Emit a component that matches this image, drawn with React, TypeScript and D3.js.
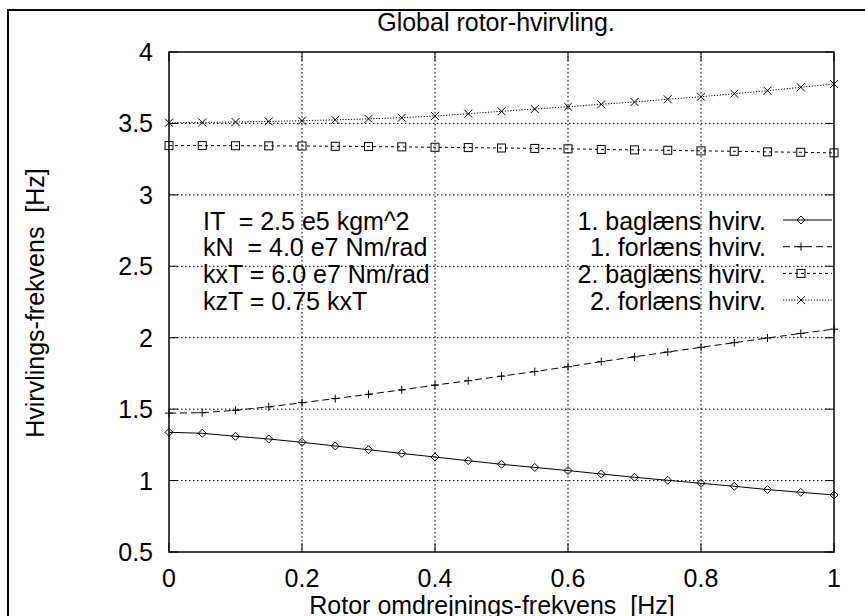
import React from "react";
import * as d3 from "d3";

const xValues = [0, 0.05, 0.1, 0.15, 0.2, 0.25, 0.3, 0.35, 0.4, 0.45, 0.5, 0.55, 0.6, 0.65, 0.7, 0.75, 0.8, 0.85, 0.9, 0.95, 1];
const baglaens1 = [1.338, 1.331, 1.31, 1.291, 1.268, 1.242, 1.216, 1.19, 1.165, 1.139, 1.114, 1.092, 1.07, 1.046, 1.023, 1.002, 0.981, 0.96, 0.937, 0.918, 0.899];
const forlaens1 = [1.472, 1.475, 1.492, 1.516, 1.545, 1.574, 1.604, 1.635, 1.668, 1.699, 1.731, 1.763, 1.797, 1.833, 1.866, 1.9, 1.933, 1.965, 1.998, 2.03, 2.06];
const baglaens2 = [3.345, 3.345, 3.344, 3.343, 3.342, 3.34, 3.338, 3.336, 3.333, 3.331, 3.328, 3.325, 3.322, 3.318, 3.315, 3.312, 3.308, 3.305, 3.301, 3.298, 3.294];
const forlaens2 = [3.505, 3.507, 3.51, 3.514, 3.519, 3.525, 3.532, 3.54, 3.552, 3.568, 3.585, 3.601, 3.617, 3.634, 3.65, 3.669, 3.687, 3.708, 3.729, 3.753, 3.776];

const seriesNames = ["1. baglæns hvirv.", "1. forlæns hvirv.", "2. baglæns hvirv.", "2. forlæns hvirv."];
const xTicks = [0, 0.2, 0.4, 0.6, 0.8, 1];
const xTickLabels = ["0", "0.2", "0.4", "0.6", "0.8", "1"];
const yTicks = [0.5, 1, 1.5, 2, 2.5, 3, 3.5, 4];
const yTickLabels = ["0.5", "1", "1.5", "2", "2.5", "3", "3.5", "4"];
const infoLines = ["IT  = 2.5 e5 kgm^2", "kN  = 4.0 e7 Nm/rad", "kxT = 6.0 e7 Nm/rad", "kzT = 0.75 kxT"];
const title = "Global rotor-hvirvling.";
const xLabel = "Rotor omdrejnings-frekvens  [Hz]";
const yLabel = "Hvirvlings-frekvens  [Hz]";

const FONT = "'Liberation Sans', Arial, Helvetica, sans-serif";
const FS = 25;

const L = 169, R = 834, T = 52, B = 552;
const x = d3.scaleLinear().domain([0, 1]).range([L, R]);
const y = d3.scaleLinear().domain([0.5, 4]).range([B, T]);

const dashes = [null, "7,4", "3,3", "1.2,1.6"];
const allSeries = [baglaens1, forlaens1, baglaens2, forlaens2];

function Marker({ kind, cx, cy }: { kind: number; cx: number; cy: number }) {
  const s = 4;
  const common = { stroke: "#000", strokeWidth: 1, fill: "none" };
  if (kind === 0) {
    return <path d={`M${cx - s},${cy}L${cx},${cy - s}L${cx + s},${cy}L${cx},${cy + s}Z`} {...common} />;
  }
  if (kind === 1) {
    return <path d={`M${cx - s},${cy}H${cx + s}M${cx},${cy - s}V${cy + s}`} {...common} />;
  }
  if (kind === 2) {
    return <rect x={cx - s} y={cy - s} width={2 * s} height={2 * s} {...common} />;
  }
  return <path d={`M${cx - s},${cy - s}L${cx + s},${cy + s}M${cx - s},${cy + s}L${cx + s},${cy - s}`} {...common} />;
}

export default function App() {
  const line = d3.line<number>().x((_, i) => x(xValues[i])).y((d) => y(d));
  const legendText = 766;
  const legX0 = 783, legX1 = 832, legM = 801;
  const rowBase = (i: number) => 229.5 + i * 26.7;

  return (
    <svg width={865} height={616} style={{ position: "absolute", left: 0, top: 0 }} fontFamily={FONT}>
      <rect x={0} y={0} width={865} height={616} fill="#fff" />
      <rect x={8} y={10} width={900} height={700} fill="none" stroke="#000" strokeWidth={2} />
      <text x={496} y={31} fontSize={FS} textAnchor="middle">{title}</text>

      {/* grid */}
      {yTicks.slice(1, -1).map((t) => (
        <line key={"gy" + t} x1={L} x2={R} y1={y(t)} y2={y(t)} stroke="#000" strokeWidth={1} strokeDasharray="1.5,2.5" />
      ))}
      {xTicks.slice(1, -1).map((t) => (
        <line key={"gx" + t} x1={x(t)} x2={x(t)} y1={T} y2={B} stroke="#000" strokeWidth={1} strokeDasharray="1.5,2.5" />
      ))}

      {/* ticks */}
      {yTicks.map((t) => (
        <g key={"ty" + t}>
          <line x1={L} x2={L + 9} y1={y(t)} y2={y(t)} stroke="#000" />
          <line x1={R - 9} x2={R} y1={y(t)} y2={y(t)} stroke="#000" />
        </g>
      ))}
      {xTicks.map((t) => (
        <g key={"tx" + t}>
          <line x1={x(t)} x2={x(t)} y1={B} y2={B - 9} stroke="#000" />
          <line x1={x(t)} x2={x(t)} y1={T} y2={T + 9} stroke="#000" />
        </g>
      ))}
      <rect x={L} y={T} width={R - L} height={B - T} fill="none" stroke="#000" strokeWidth={1.5} />

      {/* tick labels */}
      {yTicks.map((t, i) => (
        <text key={"ly" + t} x={153} y={y(t) + 9} fontSize={FS} textAnchor="end">{yTickLabels[i]}</text>
      ))}
      {xTicks.map((t, i) => (
        <text key={"lx" + t} x={x(t)} y={587} fontSize={FS} textAnchor="middle">{xTickLabels[i]}</text>
      ))}

      <text x={492} y={614} fontSize={FS} textAnchor="middle" style={{ whiteSpace: "pre" }}>{xLabel}</text>
      <text transform={`translate(44,303) rotate(-90)`} fontSize={FS} textAnchor="middle" style={{ whiteSpace: "pre" }}>{yLabel}</text>

      {/* info text */}
      {infoLines.map((s, i) => (
        <text key={"info" + i} x={203} y={rowBase(i)} fontSize={FS} style={{ whiteSpace: "pre" }}>{s}</text>
      ))}

      {/* series */}
      {allSeries.map((vals, k) => (
        <g key={"s" + k}>
          <path d={line(vals) || ""} fill="none" stroke="#000" strokeWidth={1} strokeDasharray={dashes[k] || undefined} />
          {vals.map((v, i) => (
            <Marker key={i} kind={k} cx={x(xValues[i])} cy={y(v)} />
          ))}
        </g>
      ))}

      {/* legend */}
      {seriesNames.map((name, k) => (
        <g key={"leg" + k}>
          <text x={legendText} y={rowBase(k)} fontSize={FS} textAnchor="end">{name}</text>
          <line x1={legX0} x2={legX1} y1={rowBase(k) - 9.5} y2={rowBase(k) - 9.5} stroke="#000" strokeWidth={1} strokeDasharray={dashes[k] || undefined} />
          <Marker kind={k} cx={legM} cy={rowBase(k) - 9.5} />
        </g>
      ))}
    </svg>
  );
}
